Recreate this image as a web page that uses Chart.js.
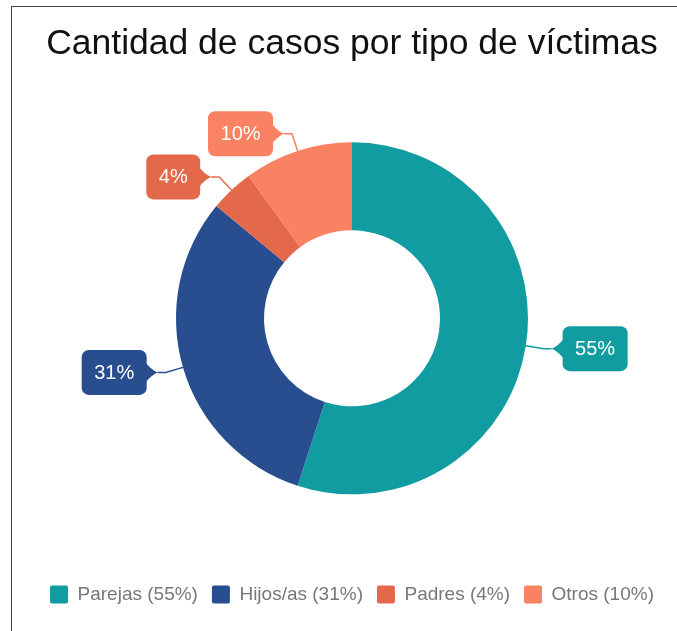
<!DOCTYPE html>
<html>
<head>
<meta charset="utf-8">
<script src="https://cdn.jsdelivr.net/npm/chart.js@4/dist/chart.umd.min.js"></script>
<style>
    body { margin: 0; background: #fff; overflow: hidden; }
    #frame { position: absolute; left: 11px; top: 6px; width: 680px; height: 640px; border: 1px solid #444; }
    canvas { display: block; }
</style>
</head>
<body>
<div id="frame"><canvas id="victims-chart" width="680" height="626"></canvas></div>
<script>
const categories = ['Parejas', 'Hijos/as', 'Padres', 'Otros'];
const percentages = [55, 31, 4, 10];
const sliceColors = ['#119ca2', '#294e90', '#e4694b', '#f98263'];

const FONT = 'Arial, "Liberation Sans", sans-serif';

// Draws the rounded callout boxes with leader lines outside each slice
const calloutPlugin = {
    id: 'callouts',
    afterDatasetsDraw(chart) {
        const ctx = chart.ctx;
        const meta = chart.getDatasetMeta(0);
        ctx.save();
        ctx.font = '20px ' + FONT;
        meta.data.forEach((arc, i) => {
            const p = arc.getProps(['x', 'y', 'startAngle', 'endAngle', 'outerRadius'], true);
            const mid = (p.startAngle + p.endAngle) / 2;
            const cos = Math.cos(mid), sin = Math.sin(mid);
            const side = cos >= 0 ? 1 : -1;
            const x0 = p.x + p.outerRadius * cos, y0 = p.y + p.outerRadius * sin;
            const x1 = p.x + (p.outerRadius + 18) * cos, y1 = p.y + (p.outerRadius + 18) * sin;
            const tipX = x1 + side * 8, tipY = y1;
            const color = sliceColors[i];

            ctx.strokeStyle = color;
            ctx.lineWidth = 1.5;
            ctx.beginPath();
            ctx.moveTo(x0, y0);
            ctx.lineTo(x1, y1);
            ctx.lineTo(tipX, tipY);
            ctx.stroke();

            const text = percentages[i] + '%';
            const w = ctx.measureText(text).width + 25;
            const h = 45;
            const edge = tipX + side * 11;
            const bx = side > 0 ? edge : edge - w;
            const by = tipY - h / 2;

            ctx.fillStyle = color;
            ctx.beginPath();
            ctx.roundRect(bx, by, w, h, 7);
            ctx.fill();
            ctx.beginPath();
            ctx.moveTo(edge + side * 2, tipY - 11);
            ctx.quadraticCurveTo(edge - side * 4, tipY - 3, tipX, tipY);
            ctx.quadraticCurveTo(edge - side * 4, tipY + 3, edge + side * 2, tipY + 11);
            ctx.closePath();
            ctx.fill();

            ctx.fillStyle = '#fff';
            ctx.textAlign = 'center';
            ctx.textBaseline = 'middle';
            ctx.fillText(text, bx + w / 2, tipY + 1);
        });
        ctx.restore();
    }
};

const ctx = document.getElementById('victims-chart').getContext('2d');
new Chart(ctx, {
    type: 'doughnut',
    data: {
        labels: categories.map((c, i) => `${c} (${percentages[i]}%)`),
        datasets: [{
            data: percentages,
            backgroundColor: sliceColors,
            borderWidth: 0,
            radius: 176,
            cutout: '50%',
        }],
    },
    options: {
        responsive: false,
        devicePixelRatio: 1,
        animation: false,
        layout: { padding: { bottom: 19 } },
        plugins: {
            title: {
                display: true,
                text: 'Cantidad de casos por tipo de víctimas',
                color: '#111',
                font: { family: FONT, size: 35.5, weight: 'normal' },
                padding: { top: 16, bottom: 0 },
            },
            legend: {
                position: 'bottom',
                labels: {
                    color: '#777',
                    font: { family: FONT, size: 19 },
                    boxWidth: 18,
                    boxHeight: 18,
                    padding: 14,
                    useBorderRadius: true,
                    borderRadius: 2,
                },
            },
            tooltip: { enabled: false },
        },
    },
    plugins: [calloutPlugin],
});
</script>
</body>
</html>
